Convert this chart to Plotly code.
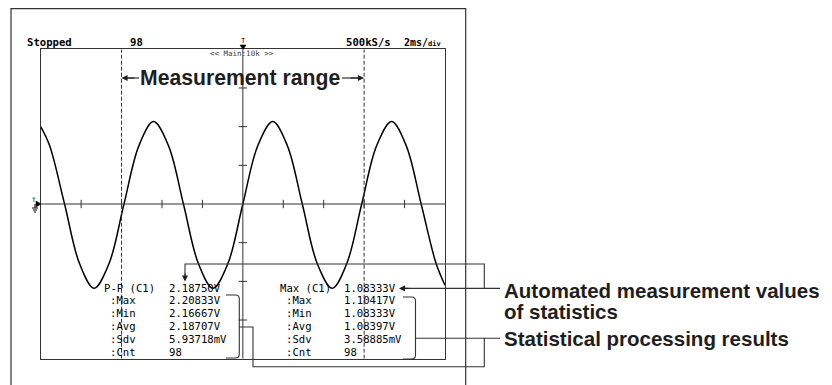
import plotly.graph_objects as go

# ---------------- data ----------------
# waveform, in divisions (x: -5..5, y: -4..4)
wave_x = [-5.00, -4.78, -4.41, -4.04, -3.68, -3.31, -2.94, -2.57, -2.21, -1.84, -1.47,
          -1.10, -0.74, -0.37, 0.00, 0.37, 0.74, 1.10, 1.47, 1.84, 2.21, 2.57, 2.94,
          3.31, 3.68, 4.04, 4.41, 4.78, 5.00]
wave_y = [2.00, 1.51, 0.00, -1.54, -2.18, -1.54, 0.00, 1.51, 2.13, 1.51, 0.00,
          -1.54, -2.18, -1.54, 0.00, 1.51, 2.13, 1.51, 0.00, -1.54, -2.18, -1.54, 0.00,
          1.51, 2.13, 1.51, 0.00, -1.54, -2.10]

cursor_x = [-3, 3]                       # measurement range cursors (div)
hticks = [-4, -3, -2, -1, 1, 2, 3, 4]    # ticks on the centre horizontal line
vticks = [-3, -2, -1, 1, 2, 3]           # ticks on the centre vertical line

header_texts = ["Stopped", "98", "500kS/s"]

pp_labels = ["P-P (C1)", ":Max", ":Min", ":Avg", ":Sdv", ":Cnt"]
pp_values = ["2.18750V", "2.20833V", "2.16667V", "2.18707V", "5.93718mV", "98"]
mx_labels = ["Max (C1)", ":Max", ":Min", ":Avg", ":Sdv", ":Cnt"]
mx_values = ["1.08333V", "1.10417V", "1.08333V", "1.08397V", "3.58885mV", "98"]

callout_labels = ["Automated measurement values", "of statistics", "Statistical processing results"]

# ---------------- layout helpers ----------------
W, H = 832, 385
OFF = 8                                       # page body margin
PL, PR, PT, PB = 40.7, 445.0, 49.3, 358.7     # plot area in page pixels
INK = "#1e1e1e"
LINE = "#333333"
MONO = "DejaVu Sans Mono, monospace"
SANS = "Liberation Sans, Arial, Helvetica, sans-serif"

fig = go.Figure()

# waveform
fig.add_trace(go.Scatter(x=wave_x, y=wave_y, mode="lines",
                         line=dict(color="black", width=1.5, shape="spline", smoothing=1.0),
                         hoverinfo="skip", showlegend=False))
# ticks on centre lines
fig.add_trace(go.Scatter(x=hticks, y=[0] * len(hticks), mode="markers",
                         marker=dict(symbol="line-ns", size=6, line=dict(color=LINE, width=1)),
                         hoverinfo="skip", showlegend=False))
fig.add_trace(go.Scatter(x=[0] * len(vticks), y=vticks, mode="markers",
                         marker=dict(symbol="line-ew", size=6, line=dict(color=LINE, width=1)),
                         hoverinfo="skip", showlegend=False))
# invisible trace to create the full-page pixel axes
fig.add_trace(go.Scatter(x=[100], y=[100], xaxis="x2", yaxis="y2", mode="markers",
                         marker=dict(size=0.1, color="rgba(0,0,0,0)"),
                         hoverinfo="skip", showlegend=False))

shapes = []
# centre crosshair
shapes.append(dict(type="line", xref="x", yref="y", x0=0, x1=0, y0=-4, y1=4, line=dict(color=LINE, width=1)))
shapes.append(dict(type="line", xref="x", yref="y", x0=-5, x1=5, y0=0, y1=0, line=dict(color=LINE, width=1)))
# cursors
for cx in cursor_x:
    shapes.append(dict(type="line", xref="x", yref="y", x0=cx, x1=cx, y0=-4, y1=4,
                       line=dict(color=LINE, width=1, dash="4px,2px")))

def px_line(pts, width=1.1, color=LINE):
    d = "M " + " L ".join(f"{x},{y}" for x, y in pts)
    shapes.append(dict(type="path", xref="x2", yref="y2", path=d, line=dict(color=color, width=width)))

# outer frame (runs off the bottom of the page)
px_line([(11, 400), (11, 8.6), (465.7, 8.6), (465.7, 400)], width=1.2)

# trigger marker at top
shapes.append(dict(type="path", xref="x2", yref="y2", path="M 240,45 L 246,45 L 243,49.5 Z",
                   fillcolor="black", line=dict(color="black", width=0.5)))
# ground / level marker at left
shapes.append(dict(type="path", xref="x2", yref="y2", path="M 36,201 L 41,204 L 36,207 Z",
                   fillcolor="black", line=dict(color="black", width=0.5)))
px_line([(35, 204), (35, 208)], width=1, color="black")
px_line([(32, 208), (38, 208)], width=1, color="black")
px_line([(33, 210), (37, 210)], width=1, color="black")
px_line([(34, 212), (36, 212)], width=1, color="black")

# brackets
def bracket(x_l, x_r, y_t, y_b, r=4):
    d = (f"M {x_l},{y_t} L {x_r - r},{y_t} Q {x_r},{y_t} {x_r},{y_t + r} "
         f"L {x_r},{y_b - r} Q {x_r},{y_b} {x_r - r},{y_b} L {x_l},{y_b}")
    shapes.append(dict(type="path", xref="x2", yref="y2", path=d, line=dict(color=LINE, width=1.1)))

bracket(226, 239.3, 295, 358)
bracket(403, 415.5, 297, 359)

# callout lines
px_line([(185, 275), (185, 264), (484.3, 264), (484.3, 288.4), (500, 288.4)])
px_line([(404, 288.4), (484.3, 288.4)])
px_line([(239.3, 327), (253, 327), (253, 366.7), (484.3, 366.7), (484.3, 338.3), (500, 338.3)])
px_line([(415.5, 338.3), (484.3, 338.3)])
# measurement-range arrow shafts
px_line([(126, 78), (139, 78)], width=1.1, color=INK)
px_line([(342, 78), (358, 78)], width=1.1, color=INK)

annotations = []

def txt(x, y, text, size, family=MONO, color="black", xanchor="left", yanchor="middle"):
    annotations.append(dict(x=x, y=y, xref="x2", yref="y2", text=text, showarrow=False,
                            xanchor=xanchor, yanchor=yanchor,
                            font=dict(family=family, size=size, color=color)))

def arrow(xt, yt, xs, ys):
    annotations.append(dict(x=xt, y=yt, ax=xs, ay=ys, xref="x2", yref="y2", axref="x2", ayref="y2",
                            text="", showarrow=True, arrowhead=2, arrowsize=1.1, arrowwidth=1.1,
                            arrowcolor=INK, standoff=0, startstandoff=0))

# header
hdr_x = [25, 128, 344]
for hx, ht in zip(hdr_x, header_texts):
    txt(hx, 42, f"<b>{ht}</b>", 10.6)
txt(443, 42, "<b>2ms/<span style='font-size:7px'>div</span></b>", 10, xanchor="right")
txt(243, 41, "T", 7, xanchor="center")
txt(242, 53.5, "&lt;&lt; Main:10k &gt;&gt;", 7.5, xanchor="center", color="#444")
txt(34, 199, "T", 6, xanchor="center")

# measurement range
txt(240, 78, "<b>Measurement range</b>", 21.2, family=SANS, color=INK, xanchor="center")
arrow(121.5, 78, 136, 78)
arrow(364, 78, 349, 78)

# statistics blocks
row_y = [287.7, 300.4, 313.2, 326.0, 338.8, 351.6]
for i, (lab, val) in enumerate(zip(pp_labels, pp_values)):
    txt(101.7 if i == 0 else 108.0, row_y[i], lab, 10.6)
    txt(166.7, row_y[i], val, 10.6)
for i, (lab, val) in enumerate(zip(mx_labels, mx_values)):
    txt(277.7 if i == 0 else 284.2, row_y[i], lab, 10.6)
    txt(342.3, row_y[i], val, 10.6)

arrow(185, 281.5, 185, 272)
arrow(399, 288.4, 410, 288.4)

# callout labels
txt(501.5, 290.5, f"<b>{callout_labels[0]}</b>", 20.5, family=SANS, color=INK)
txt(501.5, 311.5, f"<b>{callout_labels[1]}</b>", 20.5, family=SANS, color=INK)
txt(501.5, 338.5, f"<b>{callout_labels[2]}</b>", 20.5, family=SANS, color=INK)

fig.update_layout(
    width=W, height=H, margin=dict(l=0, r=0, t=0, b=0),
    paper_bgcolor="white", plot_bgcolor="rgba(0,0,0,0)",
    showlegend=False,
    xaxis=dict(domain=[(PL - OFF) / W, (PR - OFF) / W], range=[-5, 5], showgrid=False, zeroline=False,
               showticklabels=False, ticks="", showline=True, mirror=True,
               linecolor=LINE, linewidth=1, fixedrange=True),
    yaxis=dict(domain=[(H + OFF - PB) / H, (H + OFF - PT) / H], range=[-4, 4], showgrid=False,
               zeroline=False, showticklabels=False, ticks="", showline=True, mirror=True,
               linecolor=LINE, linewidth=1, fixedrange=True),
    xaxis2=dict(domain=[0, 1], range=[OFF, W + OFF], anchor="y2", visible=False, fixedrange=True),
    yaxis2=dict(domain=[0, 1], range=[H + OFF, OFF], anchor="x2", visible=False, fixedrange=True),
    shapes=shapes, annotations=annotations,
)

fig.write_html("out.html")
